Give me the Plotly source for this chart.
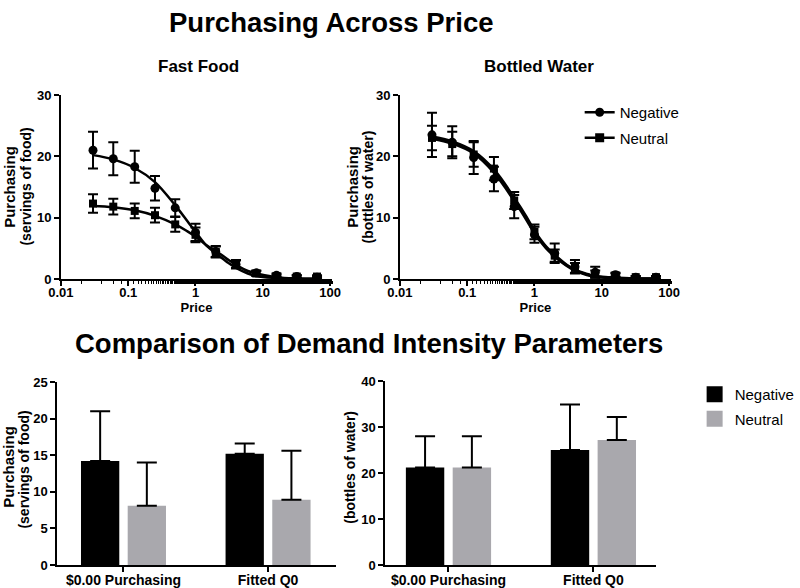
import plotly.graph_objects as go

# ---------------- data ----------------
prices = [0.03, 0.06, 0.125, 0.25, 0.5, 1, 2, 4, 8, 16, 32, 64]
food_neg = [21.0, 19.6, 18.3, 14.8, 11.6, 7.6, 4.5, 2.4, 1.0, 0.6, 0.4, 0.3]
food_neg_err = [3.0, 2.7, 2.6, 2.0, 1.4, 1.4, 0.9, 0.6, 0.4, 0.3, 0.2, 0.2]
food_neu = [12.3, 11.8, 11.1, 10.4, 8.9, 7.2, 4.4, 2.4, 0.9, 0.5, 0.4, 0.4]
food_neu_err = [1.5, 1.3, 1.2, 1.2, 1.2, 1.2, 0.9, 0.7, 0.4, 0.2, 0.2, 0.2]

water_neg = [23.5, 22.3, 19.8, 16.3, 11.8, 7.2, 4.2, 2.0, 1.1, 0.7, 0.3, 0.3]
water_neg_err = [3.6, 2.6, 2.7, 2.0, 1.9, 1.3, 1.6, 1.1, 0.9, 0.3, 0.2, 0.2]
water_neu = [23.0, 22.0, 20.3, 18.0, 12.8, 7.7, 3.8, 1.8, 0.8, 0.6, 0.3, 0.3]
water_neu_err = [2.0, 2.0, 2.0, 1.9, 1.4, 1.2, 1.0, 0.8, 0.6, 0.3, 0.2, 0.2]

fit_prices = [0.03, 0.06, 0.125, 0.25, 0.5, 0.75, 1, 1.5, 2, 3, 4, 6, 8, 16, 32, 64]
food_neg_fit = [20.2, 19.5, 18.1, 15.8, 12.0, 9.5, 7.7, 5.3, 4.2, 2.7, 1.8, 0.9, 0.5, 0.15, 0.05, 0.05]
food_neu_fit = [11.9, 11.7, 11.2, 10.3, 8.9, 7.8, 6.9, 5.4, 4.6, 3.2, 2.3, 1.3, 0.9, 0.3, 0.1, 0.05]
water_neg_fit = [22.9, 22.1, 20.5, 17.4, 12.8, 9.8, 7.5, 5.0, 3.7, 2.2, 1.4, 0.7, 0.4, 0.15, 0.05, 0.05]
water_neu_fit = [23.2, 22.4, 20.8, 17.8, 13.2, 10.2, 7.8, 5.2, 3.9, 2.3, 1.5, 0.8, 0.45, 0.15, 0.05, 0.05]

bar_categories = ["$0.00 Purchasing", "Fitted Q0"]
food_bar_neg = [14.2, 15.2]
food_bar_neg_err = [6.8, 1.4]
food_bar_neu = [8.1, 8.9]
food_bar_neu_err = [5.9, 6.7]
water_bar_neg = [21.2, 25.0]
water_bar_neg_err = [6.8, 9.9]
water_bar_neu = [21.2, 27.2]
water_bar_neu_err = [6.8, 5.0]

price_ticks = [0.01, 0.1, 1, 10, 100]
price_tick_text = ["0.01", "0.1", "1", "10", "100"]

# ---------------- style ----------------
W, H = 800, 588
BLACK = "#000000"
GRAY = "#a9a8ad"
FONT = "Liberation Sans, Arial, sans-serif"

def fx(px):
    return px / W

def fy(py):
    return 1 - py / H

def px_x(a, b):
    return [fx(a), fx(b)]

def px_y(top, bottom):
    return [fy(bottom), fy(top)]

fig = go.Figure()

def add_points(x, y, err, symbol, name, xa, ya):
    fig.add_trace(go.Scatter(
        x=x, y=y, mode="markers", name=name, xaxis=xa, yaxis=ya,
        marker=dict(symbol=symbol, size=9 if symbol == "circle" else 8, color=BLACK),
        error_y=dict(type="data", array=err, visible=True, color=BLACK, thickness=2, width=5),
        showlegend=False))

def add_fit(x, y, name, xa, ya, width=2.5):
    fig.add_trace(go.Scatter(
        x=x, y=y, mode="lines", name=name, xaxis=xa, yaxis=ya,
        line=dict(color=BLACK, width=width, shape="spline", smoothing=1.0),
        showlegend=False))

# Fast food
add_points(prices, food_neg, food_neg_err, "circle", "Negative", "x", "y")
add_points(prices, food_neu, food_neu_err, "square", "Neutral", "x", "y")
add_fit(fit_prices, food_neg_fit, "Negative", "x", "y")
add_fit(fit_prices, food_neu_fit, "Neutral", "x", "y")

# Bottled water
add_points(prices, water_neg, water_neg_err, "circle", "Negative", "x2", "y2")
add_points(prices, water_neu, water_neu_err, "square", "Neutral", "x2", "y2")
add_fit(fit_prices, water_neg_fit, "Negative", "x2", "y2", 3)
add_fit(fit_prices, water_neu_fit, "Neutral", "x2", "y2", 3)

# legend entries (top)
for sym, name in [("circle", "Negative"), ("square", "Neutral")]:
    fig.add_trace(go.Scatter(
        x=[None], y=[None], mode="lines+markers", name=name, xaxis="x2", yaxis="y2",
        marker=dict(symbol=sym, size=9, color=BLACK), line=dict(color=BLACK, width=2.5),
        showlegend=True, legend="legend", legendgroup="top_" + name))

# Bars
def add_bars(y, err, color, name, xa, ya):
    fig.add_trace(go.Bar(
        x=bar_categories, y=y, name=name, xaxis=xa, yaxis=ya,
        marker=dict(color=color, line=dict(width=0)),
        error_y=dict(type="data", symmetric=False, array=err, arrayminus=[0] * len(err),
                     visible=True, color=BLACK, thickness=2, width=10),
        showlegend=False))

add_bars(food_bar_neg, food_bar_neg_err, BLACK, "Negative", "x3", "y3")
add_bars(food_bar_neu, food_bar_neu_err, GRAY, "Neutral", "x3", "y3")
add_bars(water_bar_neg, water_bar_neg_err, BLACK, "Negative", "x4", "y4")
add_bars(water_bar_neu, water_bar_neu_err, GRAY, "Neutral", "x4", "y4")

for color, name in [(BLACK, "Negative"), (GRAY, "Neutral")]:
    fig.add_trace(go.Scatter(
        x=[None], y=[None], mode="markers", name=name, xaxis="x4", yaxis="y4",
        marker=dict(symbol="square", size=16, color=color),
        showlegend=True, legend="legend2", legendgroup="bot_" + name))

tickfont = dict(family=FONT, size=13, color=BLACK, weight="bold")

common_axis = dict(showline=True, linecolor=BLACK, linewidth=1.5, ticks="outside",
                   tickcolor=BLACK, tickwidth=1.5, ticklen=5, showgrid=False,
                   zeroline=False, tickfont=tickfont, automargin=False)

def log_x(domain, anchor):
    return dict(common_axis, type="log", domain=domain, anchor=anchor,
                range=[-2, 2.03], tickvals=price_ticks, ticktext=price_tick_text,
                ticklabelstandoff=-4,
                minor=dict(ticks="outside", ticklen=3, tickcolor=BLACK, tickwidth=1, showgrid=False),
                title=dict(text="Price", font=dict(family=FONT, size=13, color=BLACK, weight="bold"),
                           standoff=2))

def ytext(text, xc, yc, size):
    return dict(text=text, x=fx(xc), y=fy(yc), xref="paper", yref="paper",
                xanchor="center", yanchor="middle", showarrow=False, textangle=-90,
                font=dict(family=FONT, size=size, color=BLACK, weight="bold"))

fig.update_layout(
    width=W, height=H,
    template="none",
    margin=dict(l=0, r=0, t=0, b=0),
    paper_bgcolor="white", plot_bgcolor="white",
    barmode="group", bargap=0.354, bargroupgap=0.18,
    xaxis=log_x(px_x(62, 338), "y"),
    yaxis=dict(common_axis, domain=px_y(95, 279), anchor="x", range=[0, 30],
               tickvals=[0, 10, 20, 30]),
    xaxis2=log_x(px_x(407, 683), "y2"),
    yaxis2=dict(common_axis, domain=px_y(95, 279), anchor="x2", range=[0, 30],
                tickvals=[0, 10, 20, 30]),
    xaxis3=dict(common_axis, domain=px_x(58, 342), anchor="y3", range=[-0.46, 1.47],
                ticklabelstandoff=-4,
                tickfont=dict(family=FONT, size=14, color=BLACK, weight="bold")),
    yaxis3=dict(common_axis, domain=px_y(382, 565), anchor="x3", range=[0, 25],
                tickvals=[0, 5, 10, 15, 20, 25]),
    xaxis4=dict(common_axis, domain=px_x(392, 668), anchor="y4", range=[-0.437, 1.434],
                ticklabelstandoff=-4,
                tickfont=dict(family=FONT, size=14, color=BLACK, weight="bold")),
    yaxis4=dict(common_axis, domain=px_y(381, 565), anchor="x4", range=[0, 40],
                tickvals=[0, 10, 20, 30, 40]),
    legend=dict(x=fx(590), y=fy(96), xanchor="left", yanchor="top",
                font=dict(family=FONT, size=15, color=BLACK), bgcolor="rgba(0,0,0,0)",
                itemwidth=30, traceorder="grouped", tracegroupgap=3),
    legend2=dict(x=fx(707), y=fy(378), xanchor="left", yanchor="top",
                 font=dict(family=FONT, size=15, color=BLACK), bgcolor="rgba(0,0,0,0)",
                 itemwidth=30, traceorder="grouped", tracegroupgap=2),
    annotations=[
        dict(text="Purchasing Across Price", x=fx(337), y=fy(22), xref="paper", yref="paper",
             xanchor="center", yanchor="middle", showarrow=False,
             font=dict(family=FONT, size=27.5, color=BLACK, weight="bold")),
        dict(text="Fast Food", x=fx(202), y=fy(67), xref="paper", yref="paper",
             xanchor="center", yanchor="middle", showarrow=False,
             font=dict(family=FONT, size=17, color=BLACK, weight="bold")),
        dict(text="Bottled Water", x=fx(549), y=fy(67), xref="paper", yref="paper",
             xanchor="center", yanchor="middle", showarrow=False,
             font=dict(family=FONT, size=17, color=BLACK, weight="bold")),
        dict(text="Comparison of Demand Intensity Parameters", x=fx(376), y=fy(343),
             xref="paper", yref="paper", xanchor="center", yanchor="middle", showarrow=False,
             font=dict(family=FONT, size=27.5, color=BLACK, weight="bold")),
        ytext("Purchasing", 9, 187, 15),
        ytext("(servings of food)", 26, 187, 14),
        ytext("Purchasing", 358, 187, 15),
        ytext("(bottles of water)", 375, 187, 14),
        ytext("Purchasing", 8, 467, 15),
        ytext("(servings of food)", 24, 470, 14),
        ytext("(bottles of water)", 356, 467, 14),
    ],
)

fig.write_html("out.html", config={"displayModeBar": False},
               post_script="document.body.style.margin='0';document.body.style.overflow='hidden';")
